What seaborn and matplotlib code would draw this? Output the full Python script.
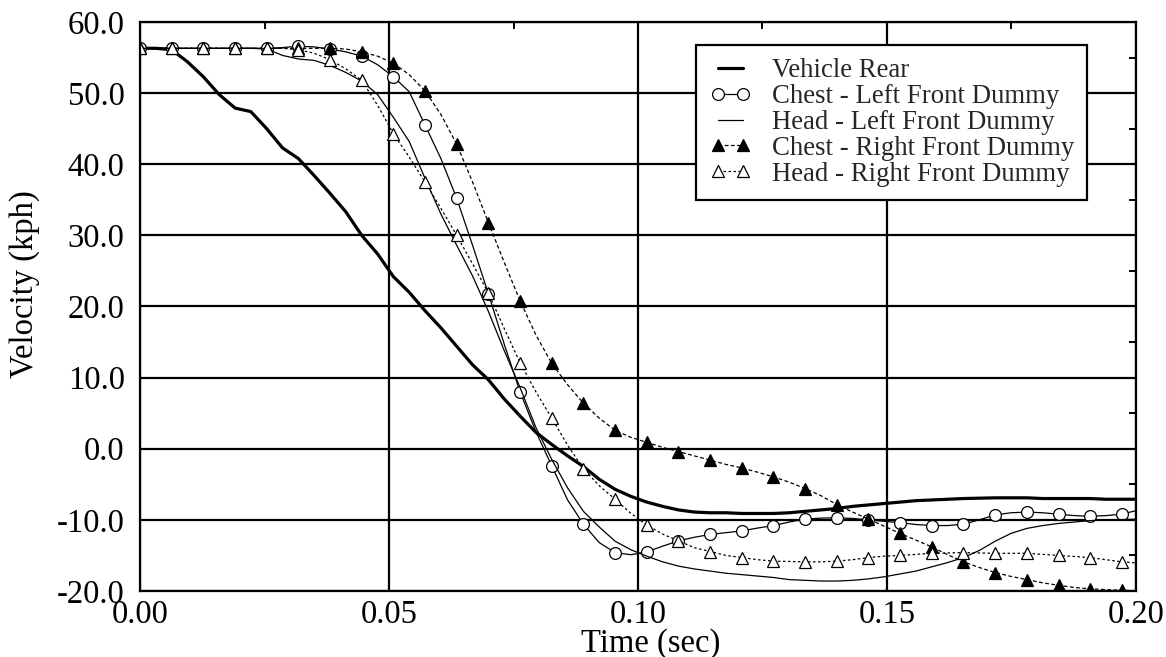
import numpy as np
import matplotlib
matplotlib.use("Agg")
import matplotlib.pyplot as plt
from matplotlib.lines import Line2D
from matplotlib.ticker import FormatStrFormatter, MultipleLocator
import seaborn as sns

# Sample times (s): one sample every 3.18 ms, markers on every second sample
time_s = np.append(np.arange(63) * 0.00318, 0.2)

vehicle_rear = [
    56.3, 56.3, 56.1, 54.4, 52.3, 49.8, 47.9, 47.4, 45.0, 42.3,
    40.8, 38.4, 35.9, 33.3, 30.0, 27.4, 24.2, 22.0, 19.4, 17.0,
    14.4, 11.8, 9.7, 7.0, 4.6, 2.3, 0.6, -1.0, -2.5, -4.3,
    -5.7, -6.7, -7.5, -8.1, -8.6, -8.9, -9.0, -9.0, -9.1, -9.1,
    -9.1, -9.0, -8.8, -8.6, -8.4, -8.1, -7.9, -7.7, -7.5, -7.3,
    -7.2, -7.1, -7.0, -6.95, -6.9, -6.9, -6.9, -7.0, -7.0, -7.0,
    -7.0, -7.1, -7.1, -7.1,
]

chest_left = [
    56.3, 56.3, 56.3, 56.3, 56.3, 56.3, 56.3, 56.3, 56.3, 56.4,
    56.6, 56.5, 56.2, 55.8, 55.2, 54.0, 52.3, 50.2, 45.5, 40.8,
    35.2, 28.6, 21.8, 14.7, 8.0, 2.4, -2.4, -7.2, -10.6, -13.2,
    -14.6, -14.9, -14.5, -13.7, -12.95, -12.45, -12.05, -11.8, -11.55, -11.15,
    -10.8, -10.3, -9.9, -9.75, -9.7, -9.8, -10.0, -10.2, -10.4, -10.65,
    -10.8, -10.8, -10.6, -10.0, -9.3, -9.0, -8.9, -9.0, -9.2, -9.4,
    -9.5, -9.4, -9.2, -8.7,
]

head_left = [
    56.3, 56.3, 56.3, 56.3, 56.3, 56.3, 56.3, 56.3, 56.2, 55.3,
    54.8, 54.6, 53.9, 52.9, 51.7, 49.8, 46.6, 43.2, 38.0, 33.0,
    28.6, 24.3, 19.3, 13.8, 8.6, 3.0, -1.5, -5.5, -8.8, -11.0,
    -13.0, -14.2, -15.1, -15.9, -16.5, -16.9, -17.2, -17.5, -17.7, -17.9,
    -18.1, -18.4, -18.5, -18.6, -18.6, -18.5, -18.3, -18.0, -17.6, -17.2,
    -16.6, -16.0, -15.3, -14.3, -13.0, -11.9, -11.2, -10.8, -10.5, -10.3,
    -10.1, -10.0, -9.95, -9.9,
]

chest_right = [
    56.3, 56.3, 56.3, 56.3, 56.3, 56.3, 56.3, 56.3, 56.3, 56.3,
    56.3, 56.3, 56.3, 56.2, 55.8, 55.2, 54.2, 52.6, 50.3, 47.0,
    42.8, 37.5, 31.8, 26.2, 20.8, 16.0, 12.0, 9.0, 6.4, 4.3,
    2.6, 1.6, 0.9, 0.2, -0.4, -1.0, -1.6, -2.2, -2.7, -3.3,
    -3.95, -4.7, -5.6, -6.6, -7.85, -8.9, -9.9, -10.9, -11.9, -12.85,
    -13.8, -14.9, -15.9, -16.7, -17.4, -17.95, -18.4, -18.85, -19.2, -19.5,
    -19.7, -19.8, -19.9, -19.95,
]

head_right = [
    56.3, 56.3, 56.3, 56.3, 56.3, 56.3, 56.3, 56.3, 56.3, 56.3,
    56.1, 55.6, 54.7, 53.4, 51.8, 48.3, 44.3, 41.0, 37.5, 33.8,
    30.0, 26.0, 21.9, 16.9, 12.1, 8.0, 4.3, 0.5, -2.8, -5.2,
    -7.1, -9.1, -10.7, -12.0, -12.95, -13.9, -14.45, -15.0, -15.3, -15.6,
    -15.8, -15.85, -15.9, -15.9, -15.8, -15.6, -15.3, -15.1, -15.0, -14.85,
    -14.7, -14.65, -14.6, -14.65, -14.7, -14.7, -14.7, -14.85, -15.0, -15.15,
    -15.3, -15.6, -15.9, -16.05,
]

series_labels = [
    "Vehicle Rear",
    "Chest - Left Front Dummy",
    "Head - Left Front Dummy",
    "Chest - Right Front Dummy",
    "Head - Right Front Dummy",
]
x_ticks = [0.0, 0.05, 0.10, 0.15, 0.20]
y_ticks = [-20, -10, 0, 10, 20, 30, 40, 50, 60]

sns.set_theme(style="white")
plt.rcParams["font.family"] = ["Liberation Serif", "DejaVu Serif"]
plt.rcParams["axes.unicode_minus"] = False

fig = plt.figure(figsize=(11.66, 6.57), dpi=100)
ax = fig.add_axes([0.12007, 0.10046, 0.8542, 0.86606])

mark_idx = slice(0, 63, 2)
styles = [
    dict(color="black", linewidth=2.3, linestyle="-"),
    dict(color="black", linewidth=0.9, linestyle="-", marker="o", markersize=8.5,
         markerfacecolor="white", markeredgecolor="black", markeredgewidth=0.9,
         markevery=mark_idx),
    dict(color="black", linewidth=0.9, linestyle="-"),
    dict(color="black", linewidth=0.9, linestyle=(0, (3, 2)), marker="^", markersize=8.5,
         markerfacecolor="black", markeredgecolor="black", markeredgewidth=0.9,
         markevery=mark_idx),
    dict(color="black", linewidth=0.9, linestyle=(0, (2, 2)), marker="^", markersize=8.5,
         markerfacecolor="white", markeredgecolor="black", markeredgewidth=0.9,
         markevery=mark_idx),
]
all_series = [vehicle_rear, chest_left, head_left, chest_right, head_right]

for vals, st in zip(all_series, styles):
    sns.lineplot(x=time_s, y=vals, ax=ax, sort=False, errorbar=None, **st)

ax.set_xlim(0.0, 0.2)
ax.set_ylim(-20, 60)
ax.set_xticks(x_ticks)
ax.set_yticks(y_ticks)
ax.xaxis.set_minor_locator(MultipleLocator(0.025))
ax.yaxis.set_minor_locator(MultipleLocator(5))
ax.xaxis.set_major_formatter(FormatStrFormatter("%.2f"))
ax.yaxis.set_major_formatter(FormatStrFormatter("%.1f"))

ax.set_axisbelow(True)
ax.grid(which="major", color="black", linewidth=1.6)
ax.tick_params(which="both", direction="in", top=True, right=True,
               labelsize=23.5, colors="black")
ax.tick_params(which="major", length=0, pad=6)
ax.tick_params(which="minor", length=5, width=1.4)
ax.tick_params(axis="y", which="major", pad=11)
for sp in ax.spines.values():
    sp.set_color("black")
    sp.set_linewidth(1.6)

ax.set_xlabel("Time (sec)", fontsize=23.5, color="black")
ax.set_ylabel("Velocity (kph)", fontsize=23.5, color="black")
ax.xaxis.set_label_coords(0.513, -0.066)
ax.yaxis.set_label_coords(-0.1, 0.54)

handles = [
    Line2D([0], [0], **{k: v for k, v in st.items() if k != "markevery"})
    for st in styles
]
leg = ax.legend(handles, series_labels, loc="upper right",
                bbox_to_anchor=(0.951, 0.9596), borderaxespad=0,
                fontsize=19.3, frameon=True, fancybox=False, shadow=False,
                numpoints=2, handlelength=1.55, handletextpad=0.75,
                labelspacing=0.03, borderpad=0.5)
frame = leg.get_frame()
frame.set_edgecolor("black")
frame.set_linewidth(1.6)
frame.set_facecolor("white")
frame.set_alpha(1.0)

fig.savefig("out.png", dpi=100)
